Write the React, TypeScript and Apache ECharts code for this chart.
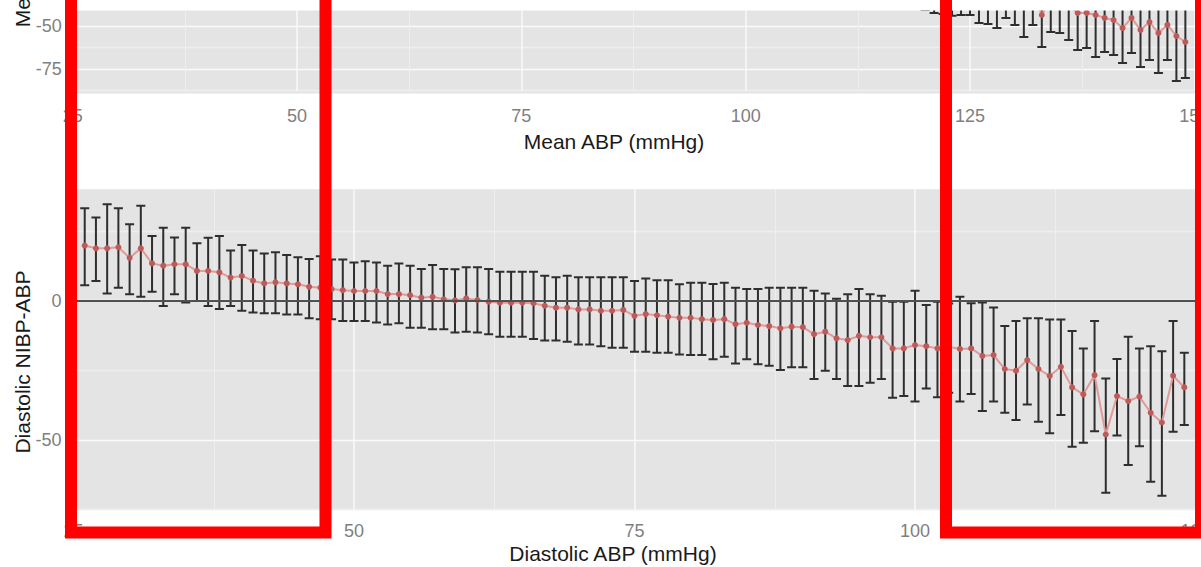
import React, { useEffect, useRef } from 'react';
import * as echarts from 'echarts';

// ---- Top panel: Mean ABP (only the visible lower-right part) ----
const meanX = [119, 120, 121, 122, 123, 124, 125, 126, 127, 128, 129, 130, 131, 132, 133, 134, 135, 136, 137, 138, 139, 140, 141, 142, 143, 144, 145, 146, 147, 148, 149];
const meanAvg = [-20, -21, -23, -24, -25, -24, -24, -28, -29, -31, -26, -30, -36, -30, -43.6, -34, -35, -38, -42.4, -42.4, -43.6, -45.3, -46.5, -51.2, -45.3, -52.3, -47.7, -54.1, -49.4, -55.8, -59.3];
const meanLow = [-40.1, -40.5, -42.4, -43, -44, -43.6, -43.6, -48.3, -48.8, -51.2, -45.3, -49.4, -56.4, -49.4, -62.2, -53.5, -54.1, -58.1, -64, -62.8, -68, -65.1, -66.9, -71.5, -65.7, -73.8, -69.8, -77.3, -69.8, -82, -80.2];
const meanHigh = [0, -1, -3, -5, -6, -4, -4, -8, -9, -11, -7, -10, -16, -10, -25, -14, -16, -18, -21, -22, -19, -25.5, -26, -31, -25, -31, -25.6, -31, -29, -29.6, -38.4];

// ---- Bottom panel: Diastolic ABP ----
const diaX = [26, 27, 28, 29, 30, 31, 32, 33, 34, 35, 36, 37, 38, 39, 40, 41, 42, 43, 44, 45, 46, 47, 48, 49, 50,
  51, 52, 53, 54, 55, 56, 57, 58, 59, 60, 61, 62, 63, 64, 65, 66, 67, 68, 69, 70, 71, 72, 73, 74, 75,
  76, 77, 78, 79, 80, 81, 82, 83, 84, 85, 86, 87, 88, 89, 90, 91, 92, 93, 94, 95, 96, 97, 98, 99, 100,
  101, 102, 103, 104, 105, 106, 107, 108, 109, 110, 111, 112, 113, 114, 115, 116, 117, 118, 119, 120, 121, 122, 123, 124];
const diaAvg = [19.8, 18.8, 18.8, 19.2, 15.4, 18.8, 13.4, 12.6, 13.1, 13.1, 10.7, 10.7, 10.2, 8.3, 8.9, 7.2, 6.2, 6.6, 6.2, 5.9, 5.0, 4.7, 4.2, 3.8, 3.5,
  3.5, 3.5, 2.4, 2.4, 2.0, 1.1, 1.4, 0.5, 0.1, 0.85, 0.25, -0.35, -0.7, -0.7, -0.7, -0.9, -1.8, -2.5, -2.5, -3.1, -3.1, -3.6, -3.6, -3.3, -5.4,
  -4.8, -5.2, -5.7, -6.1, -6.1, -6.6, -6.9, -6.6, -8.4, -7.9, -8.7, -9.1, -9.9, -9.3, -9.5, -12.0, -11.1, -13.5, -14.1, -12.6, -13.1, -13.1, -17.1, -17.1, -15.9,
  -16.3, -17.1, -16.5, -17.3, -17.1, -19.8, -19.5, -24.5, -25.1, -21.3, -24.5, -27.0, -23.7, -31.1, -33.6, -26.7, -48.0, -34.2, -36.0, -34.4, -40.2, -43.7, -26.9, -31.1];
const diaLow = [5.6, 7.1, 2.6, 4.7, 2.3, 1.4, 3.2, -1.9, 2.3, -0.6, -0.1, -1.9, -3.0, -1.9, -3.6, -4.2, -4.5, -4.5, -4.9, -4.9, -6.3, -6.6, -6.6, -7.3, -7.3,
  -7.3, -7.8, -8.5, -8.1, -9.7, -9.7, -10.2, -10.2, -11.4, -11.1, -11.4, -12.0, -12.9, -12.9, -12.9, -13.7, -14.3, -14.3, -14.7, -15.7, -15.7, -16.3, -16.9, -16.9, -18.3,
  -18.3, -18.7, -18.7, -19.3, -19.5, -19.5, -21.0, -20.1, -22.5, -21.0, -22.8, -23.3, -24.9, -23.9, -23.9, -28.1, -25.1, -28.1, -30.6, -30.6, -29.4, -28.1, -34.8, -34.2, -36.2,
  -31.5, -34.6, -33.0, -36.2, -33.5, -39.6, -36.2, -40.2, -42.8, -37.2, -43.4, -47.6, -41.0, -52.4, -51.0, -46.8, -68.9, -48.4, -59.0, -52.2, -65.0, -70.0, -47.0, -44.6];
const diaHigh = [33.2, 29.9, 34.6, 33.2, 27.5, 34.1, 23.2, 26.2, 22.7, 26.2, 20.6, 22.6, 23.2, 18.0, 20.0, 18.0, 17.0, 17.4, 16.4, 15.6, 15.0, 16.0, 14.8, 14.8, 13.7,
  14.2, 13.7, 12.6, 13.4, 12.6, 11.4, 12.8, 11.4, 11.3, 12.0, 12.0, 11.4, 10.4, 10.4, 10.4, 10.4, 9.0, 8.4, 9.0, 8.4, 8.4, 8.4, 8.4, 8.4, 7.1,
  8.0, 7.4, 7.4, 5.9, 6.5, 6.5, 6.0, 6.5, 4.7, 4.2, 4.2, 4.7, 4.7, 4.7, 4.7, 3.6, 2.6, 0.7, 2.3, 4.2, 2.3, 1.8, -0.35, -0.35, 3.6,
  -1.5, -0.35, -1.0, 1.4, -0.9, -0.6, -2.4, -9.1, -7.3, -6.3, -6.3, -6.7, -6.7, -10.9, -17.1, -7.3, -27.9, -20.9, -12.9, -17.1, -16.3, -18.1, -7.3, -18.7];

const topTitle = 'Mean ABP (mmHg)';
const topYTitle = 'Mean NIBP-ABP';
const bottomTitle = 'Diastolic ABP (mmHg)';
const bottomYTitle = 'Diastolic NIBP-ABP';

const FONT = '"Liberation Sans", Arial, sans-serif';
const PANEL_BG = '#e4e4e4';
const MAJOR = '#fafafa';
const MINOR = '#eeeeee';
const BAR = '#2e2e2e';
const POINT = '#bd5a5a';
const LINE = '#e09a9a';

function errorBar(params: any, api: any) {
  const x = api.value(0);
  const pLo = api.coord([x, api.value(1)]);
  const pHi = api.coord([x, api.value(2)]);
  const w = 4.5;
  const style = { stroke: BAR, lineWidth: 2 };
  return {
    type: 'group',
    children: [
      { type: 'line', shape: { x1: pLo[0], y1: pLo[1], x2: pHi[0], y2: pHi[1] }, style },
      { type: 'line', shape: { x1: pLo[0] - w, y1: pLo[1], x2: pLo[0] + w, y2: pLo[1] }, style },
      { type: 'line', shape: { x1: pHi[0] - w, y1: pHi[1], x2: pHi[0] + w, y2: pHi[1] }, style },
    ],
  };
}

function xAxisCfg(gridIndex: number, max: number, offset: number, margin: number) {
  return {
    type: 'value', gridIndex, min: 25, max, interval: 25, offset,
    axisLine: { show: false },
    axisTick: { show: true, length: 7, lineStyle: { color: '#8a8a8a', width: 1.2 } },
    axisLabel: {
      color: '#7f7f7f', fontSize: 18, fontFamily: FONT, margin,
      formatter: (v: number) => (Math.abs(v % 25) < 1e-6 ? String(v) : ''),
    },
    splitLine: { show: true, lineStyle: { color: MAJOR, width: 1.5 } },
    minorTick: { show: false, splitNumber: 2 },
    minorSplitLine: { show: true, lineStyle: { color: MINOR, width: 1 } },
  };
}

export default function App() {
  const ref = useRef<HTMLDivElement>(null);
  useEffect(() => {
    const chart = echarts.init(ref.current!, null, { renderer: 'svg' });
    const option: any = {
      animation: false,
      backgroundColor: '#ffffff',
      grid: [
        { left: 72.7, top: -227.7, width: 1233.8, height: 318.2, containLabel: false, outerBoundsMode: 'none', show: false },
        { left: 73.5, top: 189.3, width: 1262.3, height: 320.4, containLabel: false, outerBoundsMode: 'none', show: false },
      ],
      xAxis: [xAxisCfg(0, 162.5, 3, 13), xAxisCfg(1, 137.5, 0, 12)],
      yAxis: [
        {
          type: 'value', gridIndex: 0, min: -87.5, max: 97.5, interval: 12.5,
          axisLine: { show: false }, axisTick: { show: false },
          axisLabel: { color: '#7f7f7f', fontSize: 18, fontFamily: FONT, margin: 11,
            // labels above the cropped top edge are not in view
            formatter: (v: number) => (Math.abs(v % 25) < 1e-6 && v <= -50 ? String(v) : '') },
          splitLine: { show: true, showMaxLine: false, lineStyle: { color: [MINOR, MAJOR], width: 1.3 } },
        },
        {
          type: 'value', gridIndex: 1, min: -75, max: 40, interval: 25,
          axisLine: { show: false }, axisTick: { show: false },
          axisLabel: { color: '#7f7f7f', fontSize: 18, fontFamily: FONT, margin: 12,
            formatter: (v: number) => (Math.abs(v % 50) < 1e-6 ? String(v) : '') },
          splitLine: { show: true, showMaxLine: false, lineStyle: { color: [MINOR, MAJOR], width: 1.3 } },
        },
      ],
      graphic: [
        { type: 'rect', z: -10, silent: true, shape: { x: 70, y: -240, width: 1200, height: 333.5 }, style: { fill: PANEL_BG } },
        { type: 'rect', z: -10, silent: true, shape: { x: 70, y: 189.3, width: 1200, height: 320.4 }, style: { fill: PANEL_BG } },
        { type: 'text', z: 50, x: 614, y: 141, style: { text: topTitle, font: `21px ${FONT}`, fill: '#1a1a1a', align: 'center', verticalAlign: 'middle' } },
        { type: 'text', z: 50, x: 613, y: 553, style: { text: bottomTitle, font: `21px ${FONT}`, fill: '#1a1a1a', align: 'center', verticalAlign: 'middle' } },
        { type: 'text', z: 50, x: 22, y: -51, rotation: Math.PI / 2, style: { text: topYTitle, font: `21px ${FONT}`, fill: '#1a1a1a', align: 'center', verticalAlign: 'middle' } },
        { type: 'text', z: 50, x: 22, y: 362, rotation: Math.PI / 2, style: { text: bottomYTitle, font: `21px ${FONT}`, fill: '#1a1a1a', align: 'center', verticalAlign: 'middle' } },
        { type: 'rect', z: 90, silent: true, shape: { x: 65, y: 0, width: 1136, height: 10.5 }, style: { fill: '#ffffff' } },
        { type: 'rect', z: 100, silent: true, shape: { x: 71, y: -50, width: 254.5, height: 582.5 }, style: { fill: 'rgba(0,0,0,0)', stroke: '#ff0000', lineWidth: 12 } },
        { type: 'rect', z: 100, silent: true, shape: { x: 946, y: -50, width: 255, height: 582.5 }, style: { fill: 'rgba(0,0,0,0)', stroke: '#ff0000', lineWidth: 12 } },
      ],
      series: [
        {
          type: 'custom', xAxisIndex: 0, yAxisIndex: 0, clip: true, z: 2,
          renderItem: errorBar, encode: { x: 0, y: [1, 2] },
          data: meanX.map((x, i) => [x, meanLow[i], meanHigh[i]]),
          markLine: { silent: true, symbol: ['none', 'none'], label: { show: false },
            lineStyle: { color: '#505050', width: 2, type: 'solid' }, data: [{ yAxis: 0 }] },
        },
        {
          type: 'line', xAxisIndex: 0, yAxisIndex: 0, z: 3,
          data: meanX.map((x, i) => [x, meanAvg[i]]),
          symbol: 'circle', symbolSize: 6, showSymbol: true,
          itemStyle: { color: POINT }, lineStyle: { color: LINE, width: 2 },
        },
        {
          type: 'custom', xAxisIndex: 1, yAxisIndex: 1, clip: true, z: 2,
          renderItem: errorBar, encode: { x: 0, y: [1, 2] },
          data: diaX.map((x, i) => [x, diaLow[i], diaHigh[i]]),
          markLine: { silent: true, symbol: ['none', 'none'], label: { show: false },
            lineStyle: { color: '#505050', width: 2, type: 'solid' }, data: [{ yAxis: 0 }] },
        },
        {
          type: 'line', xAxisIndex: 1, yAxisIndex: 1, z: 3,
          data: diaX.map((x, i) => [x, diaAvg[i]]),
          symbol: 'circle', symbolSize: 6, showSymbol: true,
          itemStyle: { color: POINT }, lineStyle: { color: LINE, width: 2 },
        },
      ],
    };
    chart.setOption(option);
    return () => chart.dispose();
  }, []);
  return <div ref={ref} style={{ position: 'fixed', left: 0, top: 0, width: 1201, height: 567, background: '#fff' }} />;
}
